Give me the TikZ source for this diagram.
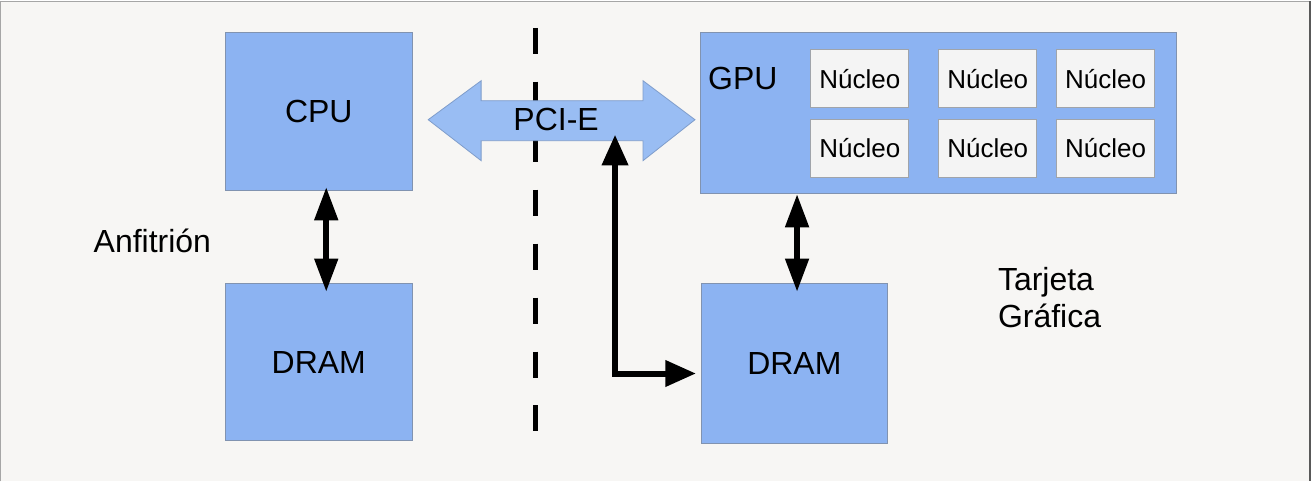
\documentclass[tikz,border=0pt]{standalone}
\usepackage{fontspec}
\setmainfont{Liberation Sans}
\usetikzlibrary{arrows.meta}
\definecolor{bg}{HTML}{F7F6F4}
\definecolor{boxfill}{HTML}{8CB3F2}
\definecolor{boxline}{HTML}{8193B0}
\definecolor{corefill}{HTML}{F4F4F4}
\definecolor{coreline}{HTML}{A0A4AA}
\definecolor{pcifill}{HTML}{99BDF3}
\definecolor{pciline}{HTML}{7F9DCB}
\begin{document}
\begin{tikzpicture}[x=0.75pt,y=-0.75pt,
  bigtxt/.style={font=\fontsize{24}{28}\selectfont},
  smalltxt/.style={font=\fontsize{19.5}{23}\selectfont},
  unit/.style={draw=boxline,fill=boxfill,line width=0.6pt,inner sep=0pt},
  core/.style={draw=coreline,fill=corefill,line width=0.6pt,inner sep=0pt,
    minimum width=73.5pt,minimum height=43.5pt,smalltxt},
  bus/.style={line width=4.5pt,
    arrows={Triangle[length=25pt,width=17pt]-Triangle[length=25pt,width=17pt]}},
  divider/.style={line width=3.8pt,dash pattern=on 19.5pt off 21pt}]
% background
\fill[bg] (0,0) rectangle (1311,481);
\draw[color=gray!70,line width=0.8pt] (0,481) -- (0,0.5) -- (1311,0.5);
\draw[color=black!65,line width=1.2pt] (1310.5,0) -- (1310.5,481);
\useasboundingbox (0,0) rectangle (1311,481);
% dashed divider
\coordinate (dtop) at (535,27);
\coordinate (dbot) at (535,435);
\draw[divider] (dtop) -- (dbot);
% host boxes
\node[unit,bigtxt,minimum width=140.25pt,minimum height=118.5pt] (cpu) at (318.5,111) {CPU};
\node[unit,bigtxt,minimum width=140.25pt,minimum height=117.75pt] (dramL) at (318.5,361.5) {DRAM};
% gpu box
\node[unit,minimum width=357.75pt,minimum height=120.75pt] (gpu) at (938.5,112.5) {};
\node[bigtxt,anchor=west,inner sep=0pt] (gputxt) at (708,78) {GPU};
\node[core] (c11) at (860,78) {Núcleo};
\node[core] (c12) at (988,78) {Núcleo};
\node[core] (c13) at (1106,78) {Núcleo};
\node[core] (c21) at (860,147.5) {Núcleo};
\node[core] (c22) at (988,147.5) {Núcleo};
\node[core] (c23) at (1106,147.5) {Núcleo};
% device dram
\node[unit,bigtxt,minimum width=140.25pt,minimum height=120pt] (dramR) at (794.5,363) {DRAM};
% PCI-E double arrow
\draw[fill=pcifill,draw=pciline,line width=0.6pt]
  (428,119) -- (481,80) -- (481,100) -- (643,100) -- (643,80) -- (695,119)
  -- (643,160) -- (643,140) -- (481,140) -- (481,160) -- cycle;
\node[bigtxt,inner sep=0pt] (pci) at (556,119) {PCI-E};
% labels
\node[bigtxt,anchor=west,inner sep=0pt] (host) at (93,240) {Anfitrión};
\node[bigtxt,anchor=west,inner sep=0pt,align=left] (card) at (998,297) {Tarjeta\\Gráfica};
% connectors
\coordinate (cpuout) at ([xshift=5.6pt,yshift=3pt]cpu.south);
\coordinate (dramLin) at ([xshift=5.6pt,yshift=-6.5pt]dramL.north);
\draw[bus] (cpuout) -- (dramLin);
\coordinate (gpuout) at ([xshift=2pt,yshift=0pt]dramR.north |- gpu.south);
\coordinate (dramRin) at ([xshift=2pt,yshift=-6.5pt]dramR.north);
\draw[bus] (gpuout) -- (dramRin);
\coordinate (pcitap) at (615,134);
\coordinate (corner) at (615,373);
\coordinate (dramin) at (696,373);
\draw[line width=4.5pt,line join=miter,
  arrows={Triangle[length=23pt,width=19pt]-Triangle[length=23pt,width=19pt]}]
  (pcitap) -- (corner) -- (dramin);
\end{tikzpicture}
\end{document}
